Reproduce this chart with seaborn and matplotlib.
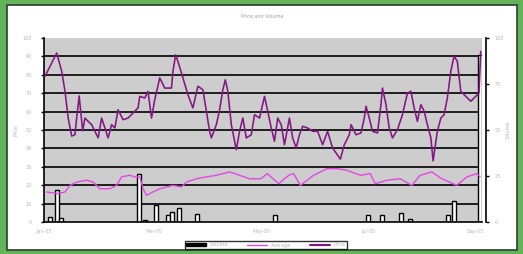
import matplotlib
matplotlib.use("Agg")
import matplotlib.pyplot as plt
from matplotlib.patches import Rectangle, Patch
from matplotlib.lines import Line2D
import seaborn as sns

# ---- data ----
price_days = [0.4, 5.1, 7.1, 8.4, 9.7, 11.1, 12.4, 13.1, 14.1, 14.7, 15.5, 16.4, 17.7, 19.1, 20.4,
              21.7, 23.1, 24.4, 25.7, 27.1, 28.4, 29.7, 31.7, 33.7, 35.7, 37.7, 38.4, 40.4, 41.7,
              43.1, 44.4, 46.4, 48.4, 51.1, 51.7, 52.8, 54.1, 55.7, 57.7, 59.7, 61.7, 63.7, 65.1,
              66.4, 67.1, 69.1, 70.4, 71.7, 72.7, 73.7, 75.1, 77.1, 78.4, 79.7, 81.1, 83.1, 84.4,
              86.4, 88.4, 89.7, 91.1, 92.4, 93.7, 95.1, 96.4, 98.4, 99.7, 101.1, 102.4, 103.7,
              105.7, 107.7, 109.7, 111.7, 113.7, 115.7, 118.8, 120.4, 122.4, 123.1, 125.1, 127.1,
              128.4, 129.1, 130.4, 131.7, 133.7, 135.1, 135.7, 137.1, 138.4, 139.7, 141.7, 143.7,
              145.7, 147.1, 148.4, 149.7, 151.1, 152.4, 153.7, 155.1, 156.0, 157.7, 159.1, 160.4,
              161.7, 163.1, 164.4, 165.7, 167.1, 169.1, 171.1, 173.1, 174.4, 175.1]
price = [79.2, 91.8, 81.9, 71.2, 56.5, 46.7, 47.4, 56.5, 68.5, 60.3, 49.5, 56.5, 54.7, 52.9, 49.3,
         45.7, 56.5, 51.1, 45.7, 52.9, 51.1, 61.0, 55.6, 56.5, 59.2, 62.0, 68.3, 67.4, 71.0,
         56.5, 66.5, 78.3, 72.8, 72.8, 81.9, 90.9, 85.5, 78.3, 69.2, 62.0, 73.8, 71.9, 60.2,
         49.3, 45.7, 52.9, 61.0, 71.9, 77.3, 71.0, 52.9, 39.3, 49.3, 56.5, 45.7, 47.4, 58.3,
         56.5, 68.3, 60.2, 51.1, 43.9, 56.5, 52.9, 42.0, 56.5, 45.7, 40.2, 47.4, 52.0,
         51.1, 49.3, 49.3, 42.0, 49.3, 40.2, 34.2, 42.0, 47.4, 52.9, 47.4, 48.4,
         56.5, 62.9, 56.5, 49.3, 48.4, 63.8, 72.8, 63.8, 51.1, 45.7, 50.2, 58.3,
         70.1, 71.0, 62.0, 54.7, 63.8, 60.2, 52.9, 45.7, 33.2, 49.3, 56.5, 58.3,
         67.4, 81.9, 90.1, 87.3, 71.0, 68.3, 65.6, 68.3, 70.1, 92.8]

avg_days = [1.1, 5.7, 8.4, 10.4, 13.1, 17.1, 19.7, 22.4, 26.4, 29.1, 31.1, 34.4, 36.4, 38.4, 39.7,
            41.1, 43.7, 46.4, 49.1, 51.7, 55.1, 57.1, 61.1, 65.1, 69.1, 74.4, 78.4, 82.4, 87.0,
            89.5, 94.1, 98.1, 100.1, 102.8, 108.1, 113.5, 117.5, 121.5, 126.8, 130.8, 132.8,
            137.5, 142.8, 147.5, 150.8, 155.5, 159.5, 165.5, 169.5, 173.5, 174.8]
avg = [16.3, 15.4, 16.3, 19.9, 21.7, 22.7, 21.7, 18.1, 18.1, 19.9, 24.5, 25.4, 24.5, 24.5, 18.1,
       14.5, 16.3, 18.1, 19.0, 19.9, 19.0, 21.7, 23.5, 24.5, 25.4, 27.2, 25.4, 23.5, 23.5,
       26.3, 20.8, 25.4, 26.3, 19.9, 25.4, 29.0, 29.0, 28.1, 25.4, 26.3, 20.8,
       22.7, 23.5, 19.9, 25.4, 27.2, 23.5, 19.9, 24.5, 26.3, 24.5]

vol_days = [2.6, 5.4, 7.0, 38.2, 40.4, 45.0, 49.8, 51.4, 54.2, 61.2, 92.8, 130.0, 135.6,
            143.0, 146.8, 161.8, 164.2, 174.8]
volume = [2.7, 17.2, 2.3, 26.3, 1.1, 9.1, 3.6, 5.4, 7.8, 4.5, 3.6, 3.6, 3.6, 4.9, 1.6, 3.6,
          11.4, 90.8]

x_ticks = [0, 44, 87, 130, 173]
x_labels = ["Jan-05", "Mar-05", "May-05", "Jul-05", "Sep-05"]
left_ticks = [0, 10, 20, 30, 40, 50, 60, 70, 80, 90, 100]
right_ticks = [0, 25, 50, 75, 100]

title = "Price and Volume"
legend_labels = ["Volume", "Average", "Price"]

# ---- drawing ----
sns.set_style("white")
W, H = 523, 254
fig = plt.figure(figsize=(W / 100, H / 100), dpi=100)
fig.patch.set_facecolor("#62b35a")
fig.patches.append(Rectangle((7 / W, 4 / H), 510 / W, 245 / H, transform=fig.transFigure,
                             facecolor="white", edgecolor="#2c3e2c", linewidth=1.2, zorder=-5))

ax = fig.add_axes([44 / W, (H - 222) / H, 438 / W, 184 / H])
ax.set_zorder(1)
ax.set_facecolor("#cdcdcd")
ax.set_xlim(0, 175.6)
ax.set_ylim(0, 100)

for yv in left_ticks[1:-1]:
    ax.axhline(yv, color="black", linewidth=1.2, zorder=1)

ax.bar(vol_days, volume, width=1.6, color="white", edgecolor="black", linewidth=1.0, zorder=2)
sns.lineplot(x=avg_days, y=avg, ax=ax, color="#e448e4", linewidth=1.0, zorder=3)
sns.lineplot(x=price_days, y=price, ax=ax, color="#861586", linewidth=1.15, zorder=4)

grey = "#b9b9b9"
ax.set_yticks(left_ticks)
ax.set_yticklabels([str(v) for v in left_ticks])
ax.set_xticks(x_ticks)
ax.set_xticklabels(x_labels)
ax.tick_params(axis="y", direction="out", length=2.5, width=1, color="black", pad=6,
               labelsize=3.5, labelcolor=grey)
ax.tick_params(axis="x", direction="out", length=2, width=1, color="black", pad=3,
               labelsize=3.5, labelcolor=grey)
for s in ["top", "right"]:
    ax.spines[s].set_visible(False)
ax.spines["left"].set_color("black")
ax.spines["left"].set_linewidth(1.2)
ax.spines["bottom"].set_color("black")
ax.spines["bottom"].set_linewidth(1.2)
ax.set_ylabel("Price", fontsize=3.5, color=grey)
ax.yaxis.set_label_coords(-25 / 438, 0.5)

ax2 = ax.twinx()
ax2.set_ylim(0, 100)
ax2.set_yticks(right_ticks)
ax2.set_yticklabels([str(v) for v in right_ticks])
ax2.tick_params(axis="y", direction="out", length=2, width=1, color="black", pad=4,
                labelsize=3.5, labelcolor=grey)
for s in ["top", "left", "bottom"]:
    ax2.spines[s].set_visible(False)
ax2.spines["right"].set_position(("outward", 3))
ax2.spines["right"].set_color("black")
ax2.spines["right"].set_linewidth(1.2)
ax2.set_ylabel("Volume", fontsize=3.5, color=grey)
ax2.yaxis.set_label_coords(1 + 24 / 438, 0.5)

fig.text(262 / W, 1 - 16 / H, title, ha="center", va="center", fontsize=3.5, color="#a0a0a0")

handles = [Patch(facecolor="black", edgecolor="black"),
           Line2D([], [], color="#e448e4", linewidth=1),
           Line2D([], [], color="#861586", linewidth=1.5)]
leg = fig.legend(handles, legend_labels, loc="center", bbox_to_anchor=(266 / W, 1 - 245 / H),
                 ncol=3, fontsize=3.5, frameon=True, fancybox=False, handlelength=4,
                 handleheight=0.6, columnspacing=4, borderpad=0.3, labelcolor=grey)
leg.get_frame().set_edgecolor("black")
leg.get_frame().set_linewidth(1)

fig.savefig("out.png", dpi=100, facecolor=fig.get_facecolor())
